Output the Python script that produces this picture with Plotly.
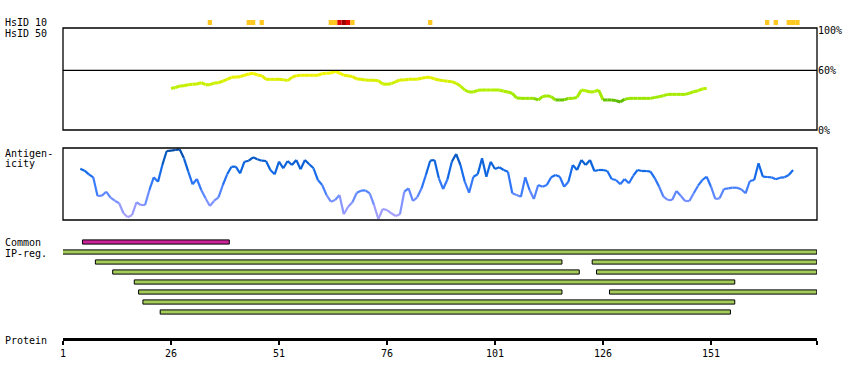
import plotly.graph_objects as go

# ---------------- data ----------------
tick_vals = [1, 26, 51, 76, 101, 126, 151]
protein_len = 175

# HsID 10 identity hits (residue, level 1=orange, 2=red, 3=dark red)
hs10_res = [35, 44, 45, 47, 63, 64, 65, 66, 67, 68, 86, 164, 166, 169, 170, 171]
hs10_lvl = [1, 1, 1, 1, 1, 1, 2, 3, 2, 1, 1, 1, 1, 1, 1, 1]

# HsID 50 identity (%) for residues 26..150
hs50_start = 26
hs50_vals = [
    41.9, 42.5, 44.2, 44.5, 45.5, 45.9, 46.2, 47.5, 45.5, 45.5,
    47.2, 47.5, 49.2, 50.9, 52.9, 53.3, 53.6, 55.0, 56.3, 57.0,
    55.3, 54.6, 50.9, 50.9, 50.9, 50.9, 50.6, 49.6, 52.9, 54.6,
    55.0, 55.0, 55.0, 55.0, 55.0, 56.6, 57.0, 57.3, 59.0, 57.3,
    55.0, 54.6, 53.6, 51.3, 51.0, 50.3, 50.0, 50.0, 49.6, 46.2,
    45.9, 46.5, 48.5, 50.3, 50.3, 51.0, 51.0, 51.0, 52.0, 52.9,
    52.9, 51.3, 50.3, 49.6, 48.9, 48.6, 46.9, 44.2, 40.2, 38.2,
    38.2, 39.9, 40.2, 40.2, 40.2, 40.2, 40.2, 38.9, 38.2, 36.9,
    32.2, 31.8, 31.8, 31.8, 31.8, 30.2, 33.5, 34.5, 33.5, 30.2,
    30.2, 30.2, 31.8, 31.8, 32.8, 40.2, 39.5, 38.2, 38.5, 40.2,
    30.2, 30.2, 30.2, 29.5, 28.1, 30.8, 31.8, 31.8, 31.8, 31.8,
    31.8, 31.8, 32.8, 33.5, 34.5, 35.8, 35.8, 35.8, 35.8, 35.8,
    36.9, 38.5, 39.5, 41.2, 41.9,
]

# Antigenicity score (arbitrary units, 0..72) for residues 5..170
ag_start = 5
ag_vals = [
    51.3, 49.3, 45.7, 42.7, 24.0, 24.3, 28.3, 22.3, 19.3, 16.7,
    6.7, 2.7, 5.0, 17.7, 15.0, 15.0, 30.0, 42.7, 38.3, 55.0,
    69.0, 69.3, 70.0, 70.7, 61.7, 48.3, 35.7, 41.0, 30.0, 21.7,
    14.0, 19.3, 22.7, 35.0, 45.7, 53.3, 53.3, 46.7, 58.3, 59.3,
    62.7, 60.7, 59.3, 59.0, 50.0, 45.7, 58.3, 51.7, 59.0, 55.0,
    60.0, 50.7, 60.0, 55.7, 51.7, 40.0, 35.0, 25.0, 18.3, 20.0,
    25.0, 5.7, 13.3, 17.7, 27.3, 29.3, 29.7, 26.7, 15.0, 1.0,
    11.0, 10.0, 6.7, 4.0, 5.7, 28.3, 31.7, 19.0, 22.7, 31.7,
    45.0, 59.3, 60.0, 41.7, 31.0, 40.7, 58.3, 66.0, 55.0, 38.3,
    27.3, 43.3, 45.7, 61.7, 43.3, 58.3, 51.0, 52.7, 50.0, 48.3,
    26.7, 25.0, 23.3, 42.7, 30.0, 21.0, 35.0, 33.3, 35.0, 42.7,
    45.0, 43.3, 33.3, 38.3, 55.0, 50.0, 60.0, 55.0, 60.0, 49.0,
    50.0, 50.0, 49.0, 41.0, 40.0, 35.7, 41.0, 36.7, 44.3, 50.0,
    49.0, 49.0, 48.3, 41.7, 33.3, 23.3, 20.0, 20.0, 29.0, 24.3,
    19.0, 19.0, 26.7, 34.3, 40.0, 43.3, 33.3, 21.0, 21.7, 31.0,
    31.7, 32.3, 32.3, 30.7, 26.7, 39.0, 40.0, 56.7, 43.3, 43.0,
    42.7, 40.7, 42.3, 42.7, 45.0, 50.0,
]

# Common region and IP-regions (row index, start residue, end residue)
common_region = [(0, 6, 39)]
ip_rows = [1, 2, 2, 3, 3, 4, 5, 5, 6, 7]
ip_starts = [1, 9, 124, 13, 125, 18, 19, 128, 20, 24]
ip_ends = [175, 116, 175, 120, 175, 156, 116, 175, 156, 155]

# ---------------- geometry / styling ----------------
W, H = 850, 380
PL, PR = 63, 817
PX_PER_RES = 4.32
x_lo = 1
x_hi = 1 + (PR - PL) / PX_PER_RES
FONT = "DejaVu Sans Mono"


def py(p):
    return 1 - p / H


def pxp(p):
    return (p - PL) / (PR - PL)


def hex2rgb(h):
    h = h.lstrip('#')
    return tuple(int(h[i:i + 2], 16) for i in (0, 2, 4))


def interp(stops, v):
    if v <= stops[0][0]:
        return stops[0][1]
    if v >= stops[-1][0]:
        return stops[-1][1]
    for (a, ca), (b, cb) in zip(stops[:-1], stops[1:]):
        if a <= v <= b:
            t = (v - a) / (b - a)
            r1, g1, b1 = hex2rgb(ca)
            r2, g2, b2 = hex2rgb(cb)
            return 'rgb(%d,%d,%d)' % (round(r1 + (r2 - r1) * t), round(g1 + (g2 - g1) * t), round(b1 + (b2 - b1) * t))
    return stops[-1][1]


hs_stops = [(28, '#55b000'), (30.5, '#66c800'), (31.5, '#99e600'), (40, '#b0f000'),
            (47, '#ccf000'), (54, '#e8f000'), (60, '#ffff00')]
ag_stops = [(0, '#b0a4ff'), (14, '#9098ff'), (25, '#6088ff'), (36, '#3278fa'),
            (47, '#156cec'), (58, '#085fd2'), (72, '#00469c')]
hs10_colors = {1: '#ffc820', 2: '#e00000', 3: '#a00000'}

fig = go.Figure()

# HsID 10 squares
fig.add_trace(go.Bar(x=hs10_res, y=[1] * len(hs10_res), width=1,
                     marker=dict(color=[hs10_colors[l] for l in hs10_lvl], line=dict(width=0)),
                     xaxis='x', yaxis='y2', hoverinfo='skip'))

# HsID 50 curve (segment coloured by value)
for i in range(len(hs50_vals) - 1):
    r = hs50_start + i
    v = (hs50_vals[i] + hs50_vals[i + 1]) / 2
    fig.add_trace(go.Scatter(x=[r, r + 1], y=[hs50_vals[i], hs50_vals[i + 1]], mode='lines',
                             line=dict(color=interp(hs_stops, v), width=3),
                             xaxis='x', yaxis='y', hoverinfo='skip'))

# Antigenicity curve
for i in range(len(ag_vals) - 1):
    r = ag_start + i
    v = (ag_vals[i] + ag_vals[i + 1]) / 2
    fig.add_trace(go.Scatter(x=[r, r + 1], y=[ag_vals[i], ag_vals[i + 1]], mode='lines',
                             line=dict(color=interp(ag_stops, v), width=2.2),
                             xaxis='x', yaxis='y3', hoverinfo='skip'))

# Common region
fig.add_trace(go.Bar(orientation='h', y=[c[0] for c in common_region],
                     x=[c[2] - c[1] + 1 for c in common_region],
                     base=[c[1] - 0.5 for c in common_region], width=0.42,
                     marker=dict(color='#cc2299', line=dict(color='black', width=1)),
                     xaxis='x', yaxis='y4', hoverinfo='skip'))
# IP regions
fig.add_trace(go.Bar(orientation='h', y=ip_rows,
                     x=[e - s + 1 for s, e in zip(ip_starts, ip_ends)],
                     base=[s - 0.5 for s in ip_starts], width=0.42,
                     marker=dict(color='#a3cc5a', line=dict(color='black', width=1)),
                     xaxis='x', yaxis='y4', hoverinfo='skip'))

shapes = [
    dict(type='rect', xref='x domain', yref='y domain', x0=0, x1=1, y0=0, y1=1,
         line=dict(color='black', width=1.3)),
    dict(type='rect', xref='x domain', yref='y3 domain', x0=0, x1=1, y0=0, y1=1,
         line=dict(color='black', width=1.3)),
    dict(type='line', xref='x domain', yref='y', x0=0, x1=1, y0=60, y1=60,
         line=dict(color='black', width=1.3)),
]

labels = [("HsID 10", 22.3), ("HsID 50", 33.2), ("Antigen-", 153.3), ("icity", 163.3),
          ("Common", 242.7), ("IP-reg.", 253.3), ("Protein", 340)]
annotations = [dict(text=t, x=pxp(3), y=py(yc), xref='paper', yref='paper', xanchor='left',
                    yanchor='middle', showarrow=False, font=dict(family=FONT, size=10, color='black'))
               for t, yc in labels]

fig.update_layout(
    width=W, height=H, margin=dict(l=PL, r=W - PR, t=0, b=0, pad=0, autoexpand=False),
    showlegend=False, plot_bgcolor='white', paper_bgcolor='white', barmode='overlay',
    font=dict(family=FONT, size=10, color='black'),
    xaxis=dict(range=[x_lo, x_hi], domain=[0, 1], anchor='free', position=py(339),
               showline=True, linewidth=3, linecolor='black', ticks='outside', ticklen=4,
               tickwidth=2, tickcolor='black', automargin=False,
               tickvals=tick_vals + [protein_len + 0.5],
               ticktext=[str(v) for v in tick_vals] + [''],
               showgrid=False, zeroline=False, fixedrange=True),
    yaxis=dict(domain=[py(130), py(28)], range=[0, 102.5], side='right', anchor='x',
               tickvals=[0, 60, 100], ticktext=['0%', '60%', '100%'], ticks='', automargin=False,
               showgrid=False, zeroline=False, showline=False, fixedrange=True),
    yaxis2=dict(domain=[py(25), py(20)], range=[0, 1], visible=False, anchor='x'),
    yaxis3=dict(domain=[py(220), py(148)], range=[0, 72], visible=False, anchor='x'),
    yaxis4=dict(domain=[py(317), py(237)], range=[7.5, -0.5], visible=False, anchor='x'),
    shapes=shapes, annotations=annotations,
)

fig.write_html("out.html", config={'displayModeBar': False},
               post_script="document.body.style.margin='0';document.body.style.overflow='hidden';")
